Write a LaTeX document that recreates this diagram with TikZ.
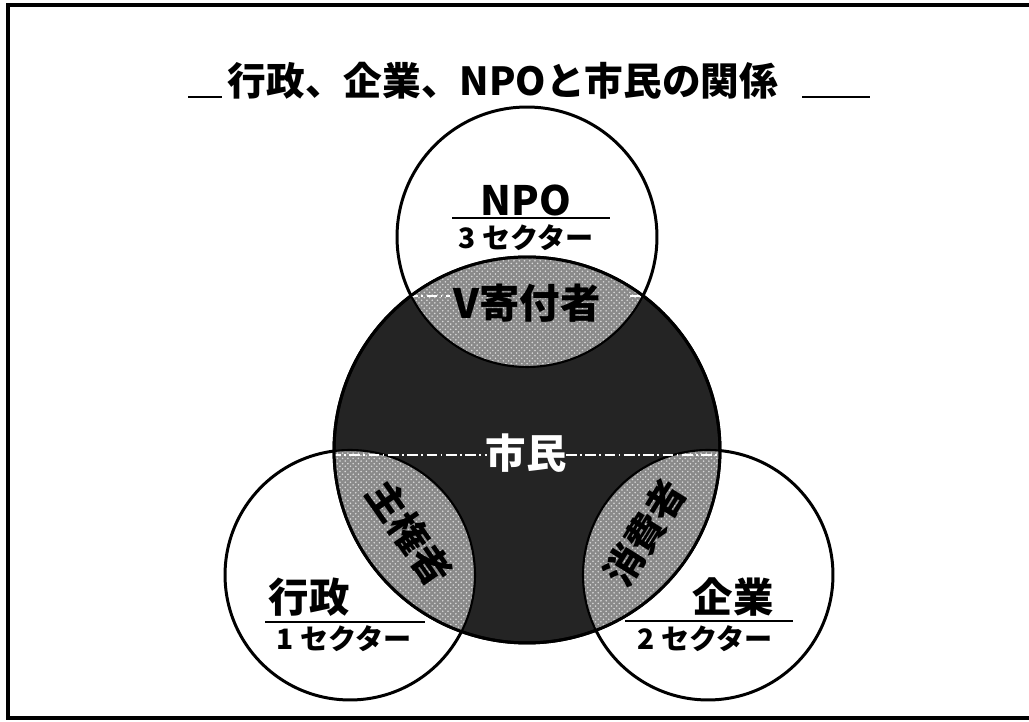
\documentclass[tikz,border=0pt]{standalone}
\usepackage{fontspec}
\newfontfamily\jp{Noto Sans CJK JP}
\usetikzlibrary{patterns}
\definecolor{darkfill}{RGB}{36,36,36}
\definecolor{lensfill}{RGB}{138,138,138}
\begin{document}
\begin{tikzpicture}[x=0.02cm,y=-0.02cm,
  ring/.style={line width=1.7pt, draw=black},
  rule/.style={line width=1.1pt},
  ttl/.style={font=\jp\bfseries\fontsize{22}{26}\selectfont, inner sep=0pt},
  big/.style={font=\jp\bfseries\fontsize{23}{27}\selectfont, inner sep=0pt},
  sect/.style={font=\jp\bfseries\fontsize{16}{20}\selectfont, inner sep=0pt},
  lens/.style={font=\jp\bfseries\fontsize{22}{26}\selectfont, inner sep=0pt},
  scan/.style={white, line width=0.8pt, dash pattern=on 6pt off 2pt on 1pt off 2pt}]
\useasboundingbox (0,0) rectangle (1029,722);
\fill[white] (0,0) rectangle (1029,722);
\draw[line width=1.8pt] (1029,5) -- (8,5) -- (8,718) -- (1029,718);

% title
\node[ttl] (title) at (503,81) {行政、企業、NPOと市民の関係};
\draw[rule] (188,97) -- (222,97);
\draw[rule] (802,97) -- (870,97);

% centres
\coordinate (cn) at (527,237);
\coordinate (cb) at (527,450);
\coordinate (cl) at (350,575);
\coordinate (cr) at (708,575);

% outer circles
\filldraw[ring, fill=white] (cn) circle[radius=2.6cm];
\filldraw[ring, fill=white] (cl) circle[radius=2.5cm];
\filldraw[ring, fill=white] (cr) circle[radius=2.5cm];
% big circle
\filldraw[ring, fill=darkfill] (cb) circle[radius=3.86cm];
% lenses
\begin{scope}
  \clip (cb) circle[radius=3.86cm];
  \fill[lensfill] (cn) circle[radius=2.6cm];
  \fill[lensfill] (cl) circle[radius=2.5cm];
  \fill[lensfill] (cr) circle[radius=2.5cm];
  \fill[pattern=crosshatch dots, pattern color=white!85!black] (cn) circle[radius=2.6cm];
  \fill[pattern=crosshatch dots, pattern color=white!85!black] (cl) circle[radius=2.5cm];
  \fill[pattern=crosshatch dots, pattern color=white!85!black] (cr) circle[radius=2.5cm];
  \draw[line width=1.2pt] (cn) circle[radius=2.6cm];
  \draw[line width=1.2pt] (cl) circle[radius=2.5cm];
  \draw[line width=1.2pt] (cr) circle[radius=2.5cm];
  \draw[scan] (330,455) -- (487,455);
  \draw[scan] (566,455) -- (720,455);
  \draw[scan] (330,296) -- (450,296);
  \draw[scan] (630,296) -- (720,296);
\end{scope}
\draw[ring] (cb) circle[radius=3.86cm];

% labels
\node[big] (npo) at (526,200) {NPO};
\draw[rule] (452,218) -- (610,218);
\node[sect] (s3) at (526,238) {3 セクター};

\node[big] (gyo) at (309,597) {行政};
\draw[rule] (265,622) -- (425,622);
\node[sect] (s1) at (344,639) {1 セクター};

\node[big] (kig) at (733,597) {企業};
\draw[rule] (625,621) -- (793,621);
\node[sect] (s2) at (705,639) {2 セクター};

\node[big, text=white] (shimin) at (526,453) {市民};
\node[big] (kifu) at (527,303) {V寄付者};
\node[lens, rotate=-55] (shuken) at (410,533) {主権者};
\node[lens, rotate=58] (shohi) at (645,533) {消費者};
\end{tikzpicture}
\end{document}
